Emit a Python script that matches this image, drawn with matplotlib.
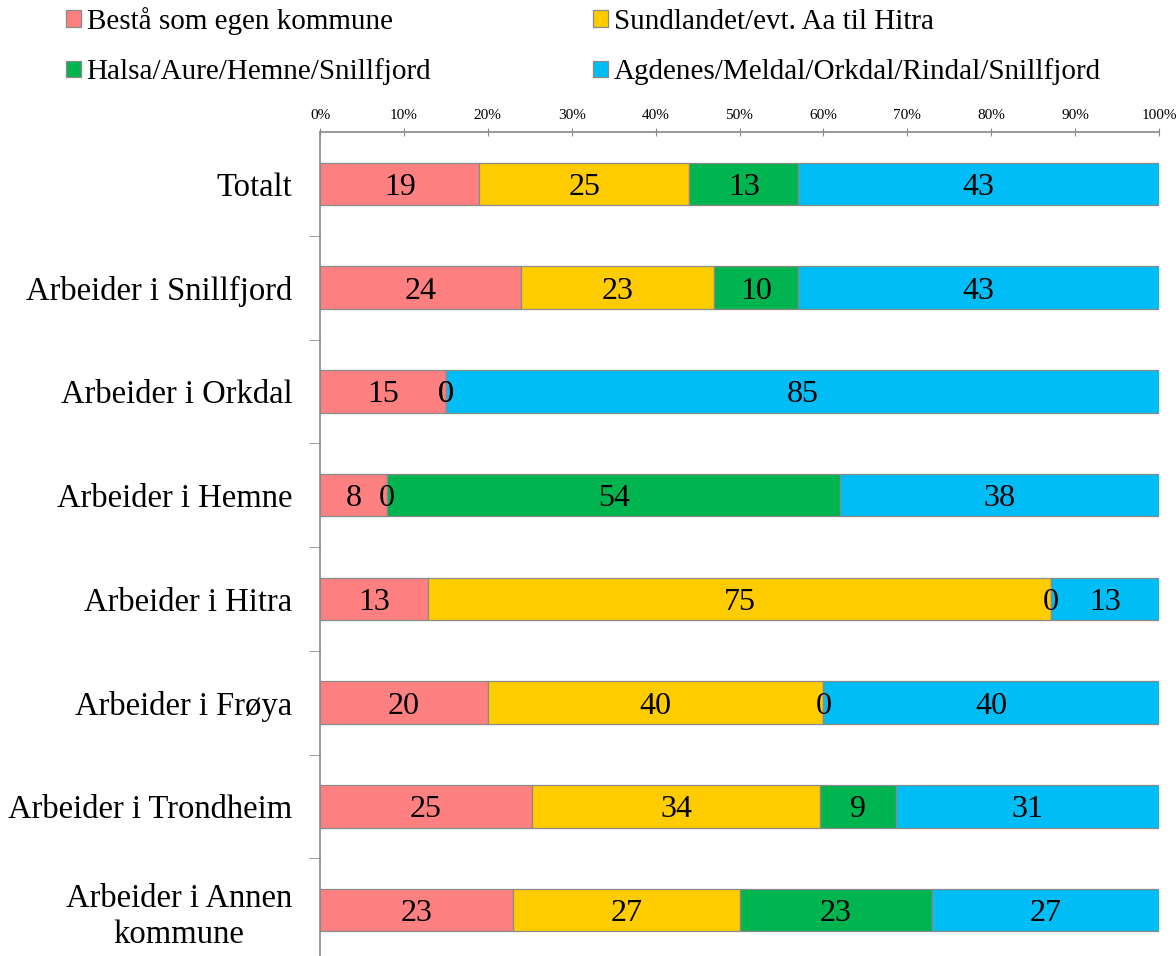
import matplotlib.pyplot as plt
import numpy as np

plt.rcParams['font.family'] = ['Liberation Serif', 'DejaVu Serif']

# data
categories = ['Totalt', 'Arbeider i Snillfjord', 'Arbeider i Orkdal', 'Arbeider i Hemne',
              'Arbeider i Hitra', 'Arbeider i Frøya', 'Arbeider i Trondheim',
              'Arbeider i Annen\nkommune']
series = ['Bestå som egen kommune', 'Sundlandet/evt. Aa til Hitra',
          'Halsa/Aure/Hemne/Snillfjord', 'Agdenes/Meldal/Orkdal/Rindal/Snillfjord']
egen = [19, 24, 15, 8, 13, 20, 25, 23]
sundlandet = [25, 23, 0, 0, 75, 40, 34, 27]
halsa = [13, 10, 0, 54, 0, 0, 9, 23]
agdenes = [43, 43, 85, 38, 13, 40, 31, 27]
xticks = np.arange(0, 101, 10)

colors = ['#FF8080', '#FFCC00', '#00B450', '#00BEF5']

values = np.array([egen, sundlandet, halsa, agdenes], dtype=float)
totals = values.sum(axis=0)
pct = values / totals * 100

fig = plt.figure(figsize=(11.76, 9.56), dpi=100)
ax = fig.add_axes([320 / 1176, -6 / 956, 839 / 1176, 830 / 956])

y = np.arange(len(categories))
left = np.zeros(len(categories))
handles = []
for i, name in enumerate(series):
    bars = ax.barh(y, pct[i], left=left, height=0.41, color=colors[i],
                   edgecolor='#8a8a8a', linewidth=0.9, label=name, zorder=3)
    handles.append(bars)
    labels = ['%d' % v for v in values[i]]
    texts = ax.bar_label(bars, labels=labels, label_type='center', fontsize=23, zorder=4)
    for t in texts:
        t.set_va('center_baseline')
    left += pct[i]

ax.set_xlim(0, 100)
ax.set_ylim(len(categories) - 0.5, -0.5)
ax.xaxis.tick_top()
ax.set_xticks(xticks)
ax.set_xticklabels(['%d%%' % t for t in xticks], fontsize=11)
ax.tick_params(axis='x', direction='inout', length=6, color='#888888', pad=4)

ax.set_yticks(y)
ax.set_yticklabels(categories, fontsize=23.5, multialignment='center', linespacing=1.25)
ax.set_yticks(np.arange(0.5, len(categories) - 0.5, 1), minor=True)
ax.tick_params(axis='y', which='major', length=0, pad=20)
ax.tick_params(axis='y', which='minor', length=8, color='#888888')

for s in ['right', 'bottom']:
    ax.spines[s].set_visible(False)
for s in ['left', 'top']:
    ax.spines[s].set_color('#888888')
    ax.spines[s].set_linewidth(1.2)

# legend filled row by row: matplotlib fills columns, so reorder
order = [0, 2, 1, 3]
fig.legend([handles[k] for k in order], [series[k] for k in order],
           loc='upper left', bbox_to_anchor=(40 / 1176, 1.02), ncol=2, frameon=False,
           fontsize=21, handlelength=0.5, handleheight=0.5, handletextpad=0.2,
           columnspacing=5.55, labelspacing=0.8)

plt.savefig('out.png', dpi=100)
